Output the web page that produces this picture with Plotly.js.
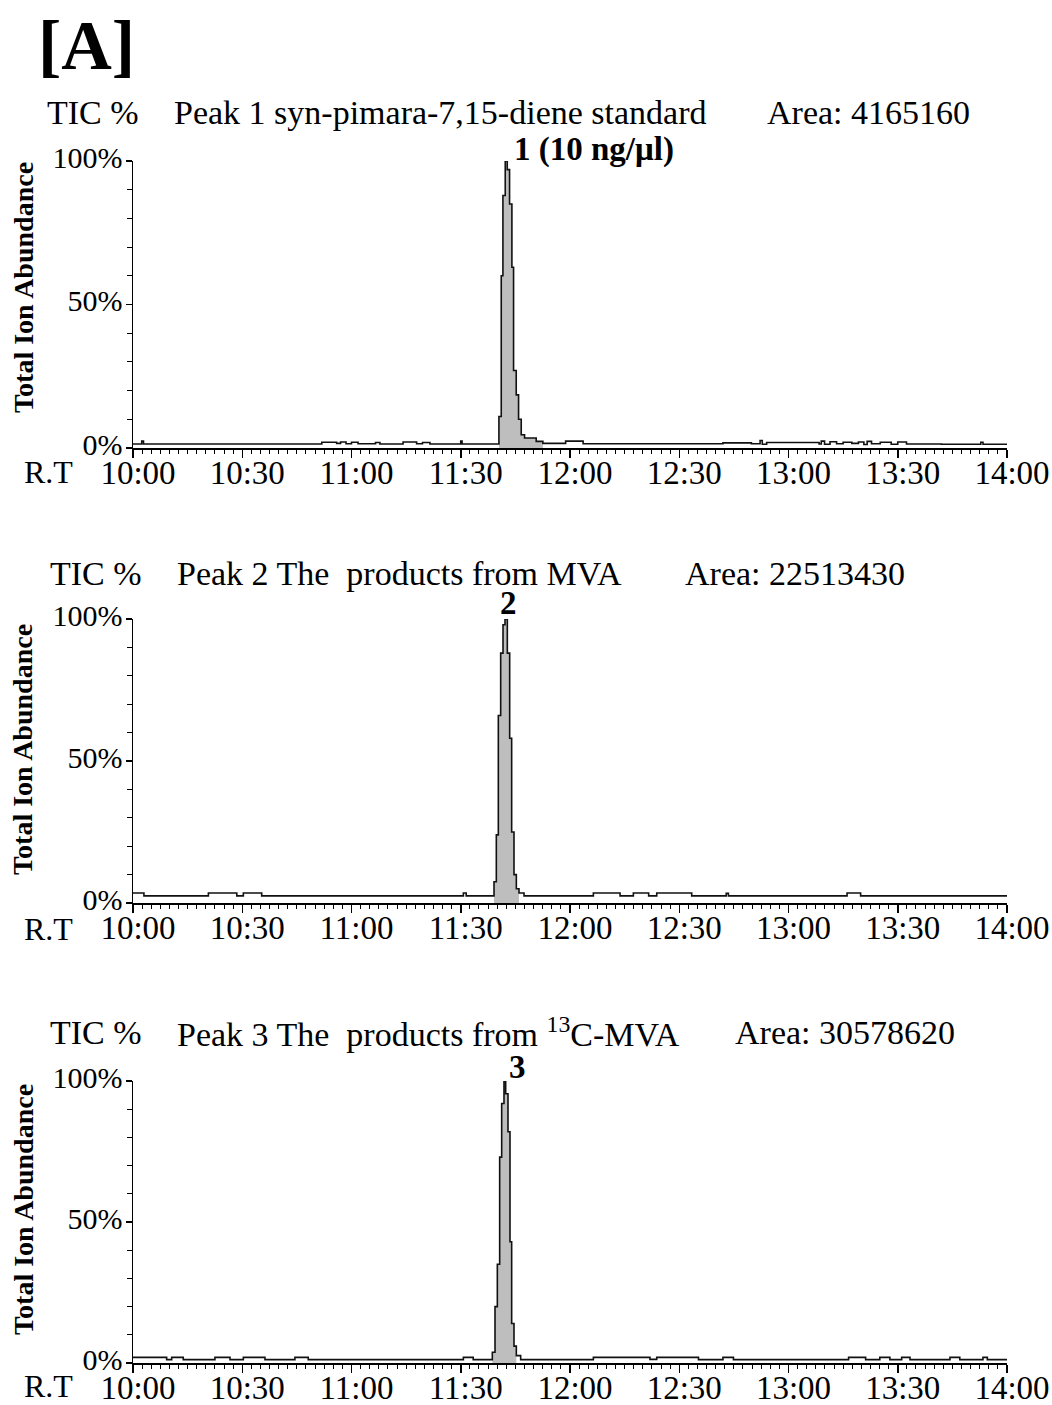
<!DOCTYPE html>
<html>
<head>
<meta charset="utf-8">
<script src="https://cdn.plot.ly/plotly-3.0.1.min.js"></script>
<style>html,body{margin:0;padding:0;background:#fff;}#chart{width:1052px;height:1405px;}</style>
</head>
<body>
<div id="chart"></div>
<script>
// ---- Data (retention time in minutes, TIC in % of max) ----
const p1_rt  = [10.000,10.040,10.048,10.864,10.932,10.950,10.975,11.000,11.030,11.110,11.130,11.236,11.298,11.325,11.359,11.500,11.506,
  11.6747,11.6853,11.6930,11.7036,11.7128,11.7234,11.7341,11.7417,11.7539,11.7646,11.7768,11.7920,11.8453,11.8758,
  11.980,12.060,12.700,12.830,12.870,12.880,12.900,13.140,13.150,13.165,13.190,13.220,13.250,13.290,13.320,13.345,13.360,13.380,13.420,13.470,13.500,13.540,13.700,13.880,13.890,14.000];
const p1_tic = [1.4,2.4,1.4,2.0,1.6,2.1,1.5,2.0,1.5,1.9,1.4,2.1,1.5,1.9,1.4,2.4,1.4,
  11,60,88,100,97,85,63,27,18.5,10,4.6,3.5,2.3,1.6,
  2.4,1.5,1.8,1.5,2.6,1.3,1.9,1.4,2.4,1.3,2.2,1.5,2.0,1.6,2.1,1.2,2.3,1.5,2.0,1.3,2.1,1.4,1.3,2.0,1.3,1.3];

const p2_rt  = [10.000,10.050,10.345,10.475,10.505,10.589,11.512,11.525,
  11.6522,11.6628,11.6720,11.6827,11.6934,11.7025,11.7132,11.7239,11.7330,11.7437,11.7544,11.7666,11.7895,
  12.107,12.229,12.290,12.360,12.397,12.557,12.715,12.725,13.268,13.330,14.000];
const p2_tic = [3.5,2.5,3.5,2.5,3.5,2.5,3.5,2.5,
  7.5,24,66,88,98,100,88,58,25,10,5,3.5,2.5,
  3.5,2.5,3.5,2.5,3.5,2.5,3.4,2.5,3.5,2.5,2.5];

const p3_rt  = [10.000,10.154,10.177,10.230,10.375,10.444,10.505,10.604,10.741,10.802,11.512,11.557,
  11.6445,11.6568,11.6674,11.6781,11.6873,11.6979,11.7056,11.7162,11.7254,11.7330,11.7437,11.7544,11.7742,
  12.107,12.366,12.397,12.588,12.700,12.748,13.275,13.353,13.418,13.464,13.518,13.556,13.739,13.784,13.890,13.910,14.000];
const p3_tic = [2.0,1.2,2.0,1.2,2.0,1.2,2.0,1.2,2.0,1.2,2.0,1.2,
  3.8,20,35,73,92,100,95.5,82,43,14,6,2.6,1.2,
  2.0,1.3,2.0,1.2,2.0,1.2,2.0,1.2,2.0,1.2,2.0,1.2,2.0,1.2,2.0,1.2,1.2];

const peakStart = [11.67, 11.65, 11.64];
const peakEnd   = [11.88, 11.77, 11.76];

const panelNames = ["Peak 1 syn-pimara-7,15-diene standard",
                    "Peak 2 The\u00a0 products from MVA",
                    "Peak 3 The\u00a0 products from <sup>13</sup>C-MVA"];
const areaTexts  = ["Area: 4165160", "Area: 22513430", "Area: 30578620"];
const peakLabels = ["1 (10 ng/\u03bcl)", "2", "3"];

const xTickVals = [10, 10.5, 11, 11.5, 12, 12.5, 13, 13.5, 14];
const xTickText = ["10:00","10:30","11:00","11:30","12:00","12:30","13:00","13:30","14:00"];
const yTickVals = [0, 50, 100];
const yTickText = ["0%","50%","100%"];

// ---- Layout helpers ----
const W = 1052, H = 1405;
const px = v => v / W;
const py = v => 1 - v / H;
const FONT = "Liberation Serif, Times New Roman, serif";

const series = [[p1_rt, p1_tic], [p2_rt, p2_tic], [p3_rt, p3_tic]];
const yPix = [[448, 161], [903, 619], [1363, 1081]];   // [0%, 100%] pixel rows
const headerY = [112, 573, 1032];
const headerX = [[45, 172, 765], [48, 175, 683], [48, 175, 733]];
const rtY = [472, 929, 1386];
const yTitleY = [288, 750, 1210];
const peakLabelPos = [[512, 150, 'left'], [508, 603, 'center'], [517, 1067, 'center']];

const traces = [];
const layout = {
  width: W, height: H,
  margin: {l: 0, r: 0, t: 0, b: 0},
  paper_bgcolor: '#fff', plot_bgcolor: '#fff',
  showlegend: false,
  font: {family: FONT, color: '#000'},
  annotations: []
};

series.forEach(([rt, tic], i) => {
  const n = i === 0 ? '' : String(i + 1);
  const xa = 'x' + n, ya = 'y' + n;
  // filled peak
  const fx = [], fy = [];
  rt.forEach((t, k) => { if (t >= peakStart[i] && t <= peakEnd[i]) { fx.push(t); fy.push(tic[k]); } });
  traces.push({x: fx, y: fy, xaxis: xa, yaxis: ya, type: 'scatter', mode: 'lines',
    line: {shape: 'hv', width: 0, color: 'rgba(0,0,0,0)'}, fill: 'tozeroy', fillcolor: '#bebebe', hoverinfo: 'skip'});
  // outline
  traces.push({x: rt, y: tic, xaxis: xa, yaxis: ya, type: 'scatter', mode: 'lines',
    line: {shape: 'hv', width: 1.6, color: '#111'}});

  layout['xaxis' + n] = {
    domain: [px(133), px(1007)], anchor: ya, range: [10, 14],
    showline: true, linecolor: '#000', linewidth: 1.5, mirror: false,
    showgrid: false, zeroline: false, automargin: false,
    tickmode: 'array', tickvals: xTickVals, ticktext: xTickText,
    ticks: 'outside', ticklen: 8, tickwidth: 1.5, tickcolor: '#000',
    ticklabelstandoff: -13, ticklabelshift: 5,
    tickfont: {family: FONT, size: 33, color: '#000'},
    minor: {tickmode: 'linear', tick0: 10, dtick: 1/24, ticks: 'outside', ticklen: 4, tickwidth: 1, tickcolor: '#000', showgrid: false}
  };
  layout['yaxis' + n] = {
    domain: [py(yPix[i][0]), py(yPix[i][1])], anchor: xa, range: [0, 100],
    showline: true, linecolor: '#000', linewidth: 1.5,
    showgrid: false, zeroline: false, automargin: false,
    tickmode: 'array', tickvals: yTickVals, ticktext: yTickText,
    ticks: 'outside', ticklen: 6, tickwidth: 1.2, tickcolor: '#000',
    ticklabelstandoff: -3, ticklabelshift: -4,
    tickfont: {family: FONT, size: 30, color: '#000'},
    minor: {tickmode: 'linear', tick0: 0, dtick: 10, ticks: 'outside', ticklen: 5, tickwidth: 1, tickcolor: '#000', showgrid: false}
  };

  const hdr = ["TIC %", panelNames[i], areaTexts[i]];
  hdr.forEach((txt, j) => layout.annotations.push({
    xref: 'paper', yref: 'paper', x: px(headerX[i][j]), y: py(headerY[i]),
    xanchor: 'left', yanchor: 'middle', showarrow: false, text: txt,
    font: {family: FONT, size: 34, color: '#000'}
  }));
  layout.annotations.push({
    xref: 'paper', yref: 'paper', x: px(22), y: py(rtY[i]), xanchor: 'left', yanchor: 'middle',
    showarrow: false, text: 'R.T', font: {family: FONT, size: 32, color: '#000'}
  });
  layout.annotations.push({
    xref: 'paper', yref: 'paper', x: px(23), y: py(yTitleY[i]), xanchor: 'center', yanchor: 'middle',
    textangle: -90, showarrow: false, text: '<b>Total Ion Abundance</b>',
    font: {family: FONT, size: 28, color: '#000'}
  });
  layout.annotations.push({
    xref: 'paper', yref: 'paper', x: px(peakLabelPos[i][0]), y: py(peakLabelPos[i][1]),
    xanchor: peakLabelPos[i][2], yanchor: 'middle', showarrow: false,
    text: '<b>' + peakLabels[i] + '</b>', font: {family: FONT, size: 33, color: '#000'}
  });
});

layout.annotations.push({
  xref: 'paper', yref: 'paper', x: px(36), y: py(45), xanchor: 'left', yanchor: 'middle',
  showarrow: false, text: '<b>[A]</b>', font: {family: FONT, size: 70, color: '#000'}
});

Plotly.newPlot('chart', traces, layout, {staticPlot: true, displayModeBar: false});
</script>
</body>
</html>
